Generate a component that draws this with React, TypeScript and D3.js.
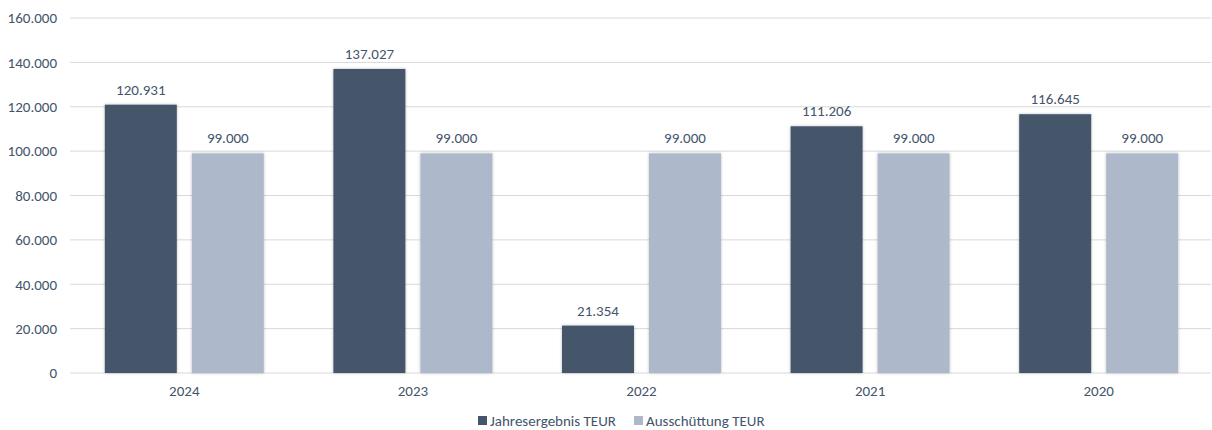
import React from "react";
import * as d3 from "d3";

const categories = ["2024", "2023", "2022", "2021", "2020"];
const jahresergebnis = [120931, 137027, 21354, 111206, 116645];
const ausschuettung = [99000, 99000, 99000, 99000, 99000];
const yTicks = [0, 20000, 40000, 60000, 80000, 100000, 120000, 140000, 160000];
const seriesNames = ["Jahresergebnis TEUR", "Ausschüttung TEUR"];
const colors = ["#44546A", "#ADB9CA"];

const W = 1212, H = 430;
const left = 70, right = 1213, top = 18, bottom = 373;
const font = "Calibri, Carlito, Lato, sans-serif";
const textColor = "#44546A";
const fs = 15;

const fmt = (v: number) => d3.format(",")(v).replace(/,/g, ".");

export default function App() {
  const x = d3.scaleBand<string>().domain(categories).range([left, right]).paddingInner(0).paddingOuter(0);
  const y = d3.scaleLinear().domain([0, 160000]).range([bottom, top]);
  const barW = 72, gap = 15;
  const series = [jahresergebnis, ausschuettung];
  return (
    <svg width={W} height={H} style={{ position: "absolute", left: 0, top: 0 }} fontFamily={font}>
      <defs>
        <filter id="sh" x="-20%" y="-5%" width="140%" height="110%">
          <feDropShadow dx="0" dy="0" stdDeviation="1.5" floodColor="#000" floodOpacity="0.25" />
        </filter>
      </defs>
      {yTicks.map((t) => (
        <g key={t}>
          <line x1={left} x2={1211} y1={y(t)} y2={y(t)} stroke="#D9D9D9" strokeWidth={1} />
          <text x={57} y={y(t)} dy="0.35em" textAnchor="end" fontSize={fs} fill={textColor}>{fmt(t)}</text>
        </g>
      ))}
      {categories.map((c, i) => {
        const cx = x(c)! + x.bandwidth() / 2;
        return (
          <g key={c}>
            {series.map((s, j) => {
              const bx = cx - gap / 2 - barW + j * (barW + gap);
              return (
                <g key={j}>
                  <rect x={bx} y={y(s[i])} width={barW} height={y(0) - y(s[i])} fill={colors[j]} filter="url(#sh)" />
                  <text x={bx + barW / 2} y={y(s[i]) - 10} textAnchor="middle" fontSize={fs} fill={textColor}>{fmt(s[i])}</text>
                </g>
              );
            })}
            <text x={cx} y={391} dy="0.35em" textAnchor="middle" fontSize={fs} fill={textColor}>{c}</text>
          </g>
        );
      })}
      {seriesNames.map((n, j) => {
        const lx = j === 0 ? 478 : 634;
        return (
          <g key={n}>
            <rect x={lx} y={416} width={9} height={9} fill={colors[j]} />
            <text x={lx + 12} y={420.5} dy="0.35em" fontSize={fs} fill={textColor}>{n}</text>
          </g>
        );
      })}
    </svg>
  );
}
